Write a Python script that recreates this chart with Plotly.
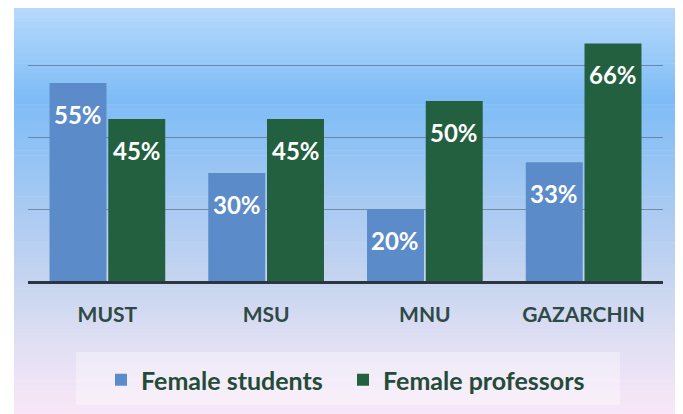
import plotly.graph_objects as go

categories = ["MUST", "MSU", "MNU", "GAZARCHIN"]
female_students = [55, 30, 20, 33]
female_professors = [45, 45, 50, 66]
series_names = ["Female students", "Female professors"]

# the page body has an 8px default margin: work in window pixels, then offset
OFF = 8
WIN_W, WIN_H = 683, 414
W, H = WIN_W - OFF, WIN_H - OFF
# plot area in window pixels
PL, PR, PT, PB = 28, 663, 29, 281
ML, MR, MT, MB = PL - OFF, WIN_W - PR, PT - OFF, WIN_H - PB
PW, PH = PR - PL, PB - PT
YMAX = 70

BLUE = "#5b8bc8"
GREEN = "#22603f"

fig = go.Figure()
fig.add_trace(go.Bar(x=categories, y=female_students, name=series_names[0],
                     marker=dict(color=BLUE, line=dict(width=0))))
fig.add_trace(go.Bar(x=categories, y=female_professors, name=series_names[1],
                     marker=dict(color=GREEN, line=dict(width=0))))


def px_to_paper_x(px):
    return (px - PL) / PW


def px_to_paper_y(py):
    return (PB - py) / PH


# background gradient (styling)
stops = [(0, (188, 220, 252)), (100, (126, 188, 246)), (200, (166, 201, 242)),
         (280, (198, 213, 240)), (350, (226, 224, 244)), (414, (249, 231, 247))]


def color_at(py):
    for (y0, c0), (y1, c1) in zip(stops[:-1], stops[1:]):
        if y0 <= py <= y1:
            t = (py - y0) / (y1 - y0)
            return "rgb(%d,%d,%d)" % tuple(round(a + (b - a) * t) for a, b in zip(c0, c1))
    return "rgb(%d,%d,%d)" % stops[-1][1]


shapes = []
N = 80
top, bottom = 7, WIN_H + 2
step = (bottom - top) / N
for i in range(N):
    y0 = top + i * step
    y1 = y0 + step + 0.6
    shapes.append(dict(type="rect", xref="paper", yref="paper",
                       x0=px_to_paper_x(14), x1=px_to_paper_x(WIN_W + 2),
                       y0=px_to_paper_y(min(y1, bottom)), y1=px_to_paper_y(y0),
                       fillcolor=color_at(y0 + step / 2), line=dict(width=0), layer="below"))
# legend band
shapes.append(dict(type="rect", xref="paper", yref="paper",
                   x0=px_to_paper_x(76), x1=px_to_paper_x(620),
                   y0=px_to_paper_y(405), y1=px_to_paper_y(352),
                   fillcolor="rgba(255,255,255,0.35)", line=dict(width=0), layer="below"))

annotations = []
for vals, shift in ((female_students, -29.5), (female_professors, 29.5)):
    for c, v in zip(categories, vals):
        annotations.append(dict(x=c, y=v, xref="x", yref="y", text=f"{v}%",
                                showarrow=False, xshift=shift, yshift=-31,
                                xanchor="center", yanchor="middle",
                                font=dict(family="Lato", size=24, color="white", weight="bold")))

fig.update_layout(
    width=W, height=H,
    margin=dict(l=ML, r=MR, t=MT, b=MB, autoexpand=False),
    paper_bgcolor="white",
    plot_bgcolor="rgba(0,0,0,0)",
    barmode="group", bargap=0.26, bargroupgap=0.03,
    shapes=shapes,
    annotations=annotations,
    showlegend=True,
    legend=dict(orientation="h", x=px_to_paper_x(101), xanchor="left",
                y=px_to_paper_y(380), yanchor="middle",
                entrywidth=197, entrywidthmode="pixels",
                font=dict(family="Lato", size=25, color="#244a38", weight="bold"),
                bgcolor="rgba(0,0,0,0)", itemwidth=30, traceorder="normal"),
    xaxis=dict(showline=True, linecolor="#2b3640", linewidth=3,
               showgrid=False, ticks="", ticklabelstandoff=13,
               tickfont=dict(family="Lato", size=21, color="#2f4a46", weight="bold"),
               range=[-0.5, 3.5]),
    yaxis=dict(range=[0, YMAX], dtick=20, showticklabels=False, showgrid=True,
               gridcolor="rgba(70,90,110,0.55)", gridwidth=1, zeroline=False,
               ticks=""),
)

fig.write_html("out.html")
